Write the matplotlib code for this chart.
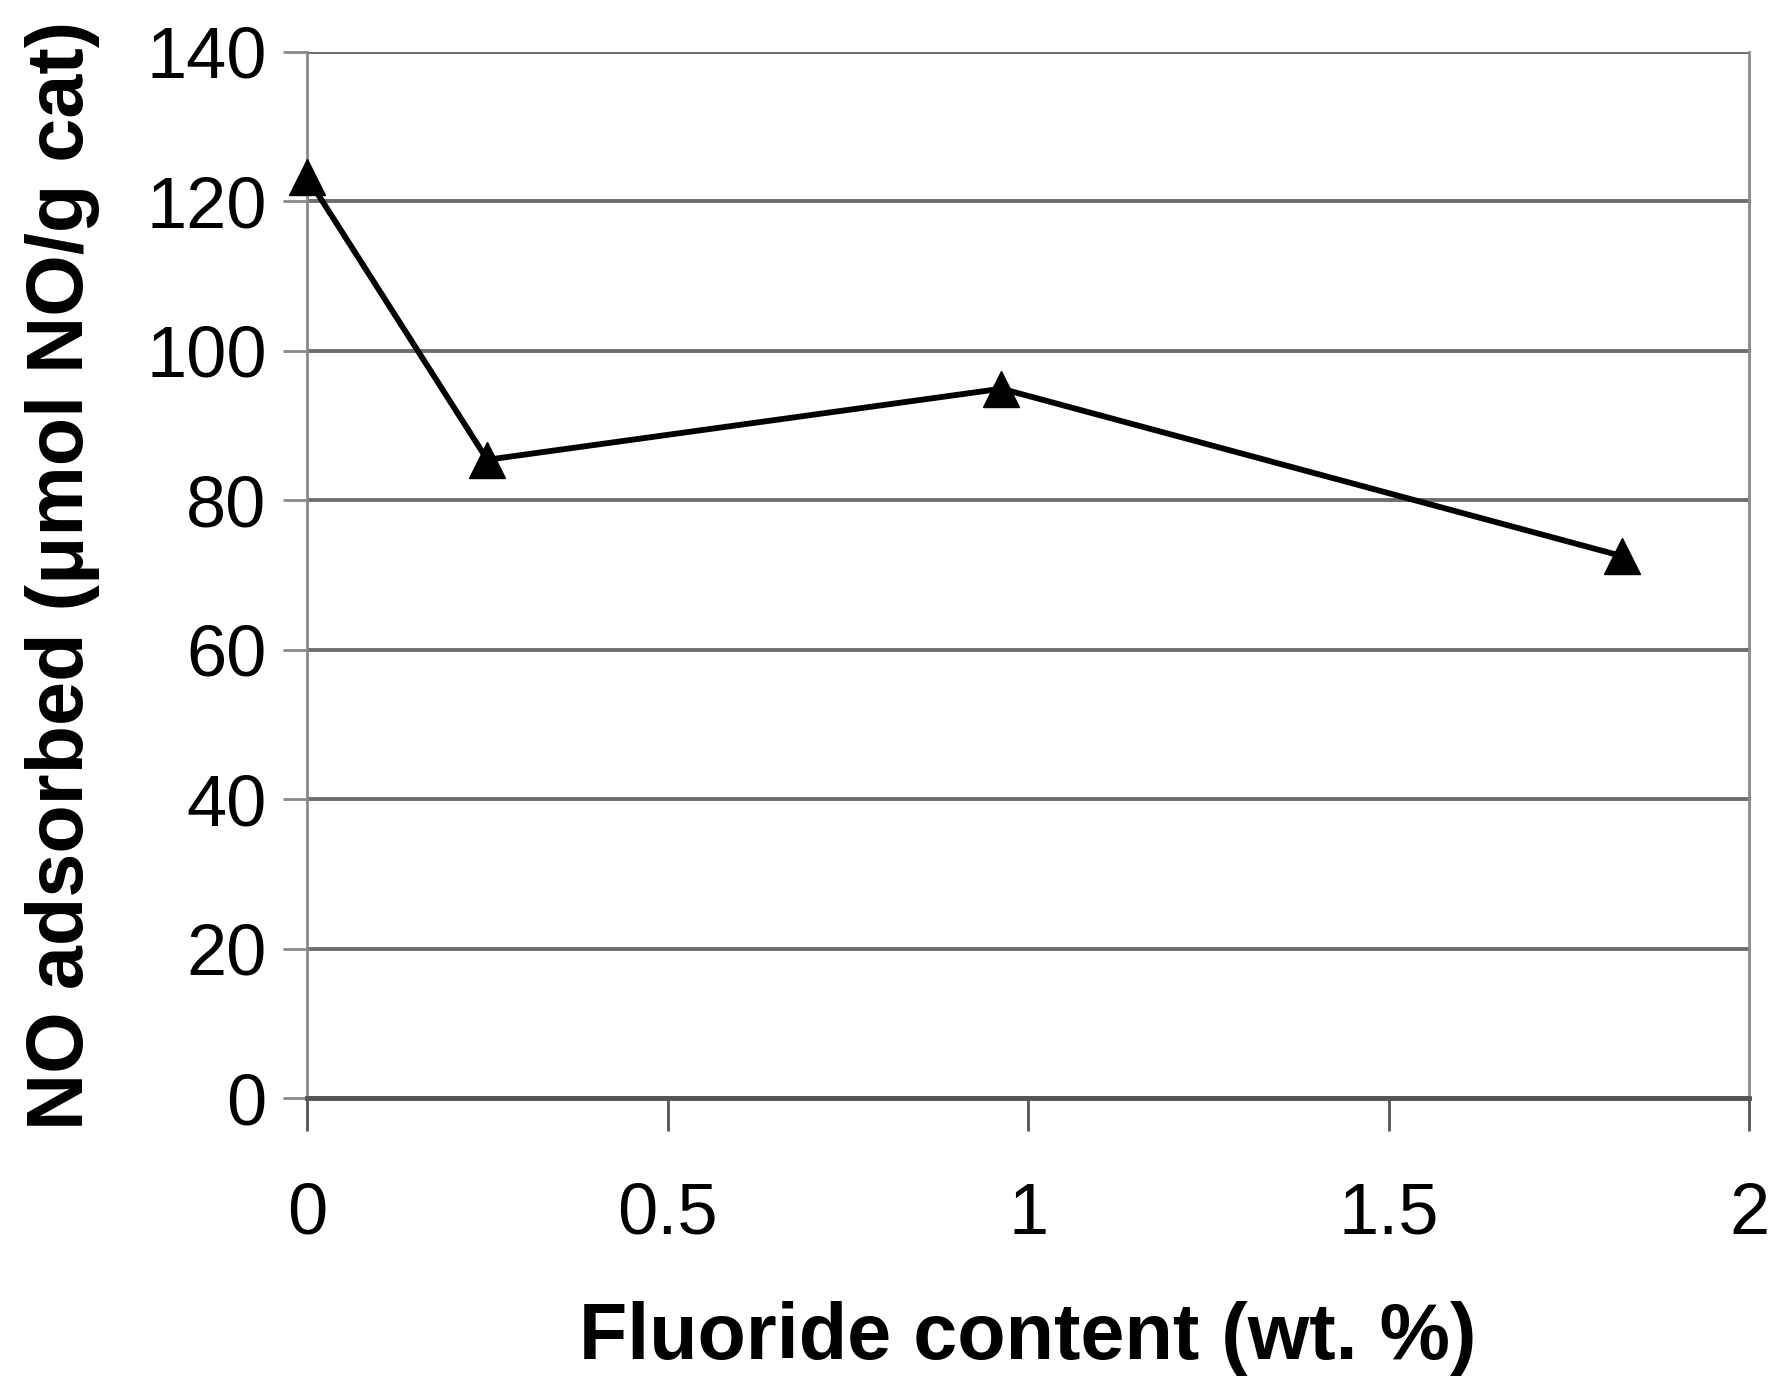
import matplotlib.pyplot as plt

# data
fluoride = [0.0, 0.25, 0.963, 1.824]
no_adsorbed = [123.2, 85.4, 94.9, 72.5]
x_ticks = [0, 0.5, 1, 1.5, 2]
x_tick_labels = ['0', '0.5', '1', '1.5', '2']
y_ticks = [0, 20, 40, 60, 80, 100, 120, 140]

plt.rcParams['font.family'] = ['Liberation Sans', 'DejaVu Sans']

fig = plt.figure(figsize=(17.85, 13.92), dpi=100)
ax = fig.add_axes([0.172, 0.211, 0.808, 0.752])

ax.plot(fluoride, no_adsorbed, color='black', lw=4.2, marker='^', ms=26,
        markerfacecolor='black', markeredgecolor='black', zorder=5, clip_on=False)

ax.set_xlim(0, 2)
ax.set_ylim(0, 140)
ax.set_xticks(x_ticks)
ax.set_xticklabels(x_tick_labels)
ax.set_yticks(y_ticks)

ax.yaxis.grid(True, color='#6e6e6e', lw=2.8)
ax.set_axisbelow(True)

for side in ['left', 'right']:
    ax.spines[side].set_color('#8a8a8a')
    ax.spines[side].set_linewidth(2.0)
ax.spines['top'].set_visible(False)
ax.spines['bottom'].set_color('#555555')
ax.spines['bottom'].set_linewidth(3.5)

ax.tick_params(axis='x', direction='out', length=24, width=2, color='#555555',
               pad=36, labelsize=52)
ax.tick_params(axis='y', direction='out', length=17, width=2, color='#8a8a8a',
               pad=12, labelsize=52)

ax.set_xlabel('Fluoride content (wt. %)', fontsize=57, fontweight='bold', labelpad=38)
ax.set_ylabel('NO adsorbed (\u03bcmol NO/g cat)', fontsize=57, fontweight='bold', labelpad=33)

fig.savefig('out.png', dpi=100)
